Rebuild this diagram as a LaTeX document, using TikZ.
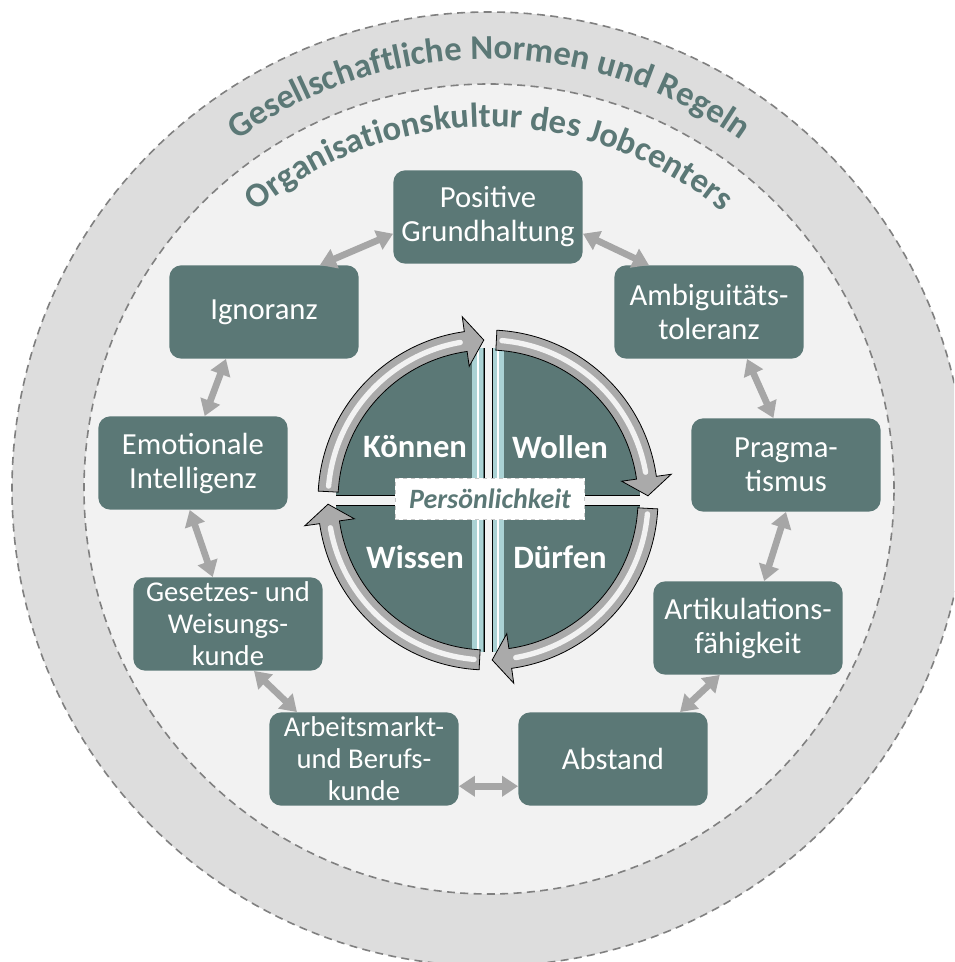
\documentclass[tikz,border=0pt]{standalone}
\usepackage{fontspec}
\setmainfont{Carlito}
\usetikzlibrary{arrows.meta,decorations.text}
\definecolor{boxteal}{RGB}{91,120,118}
\definecolor{bandgray}{RGB}{221,221,221}
\definecolor{innergray}{RGB}{242,242,242}
\definecolor{dashgray}{RGB}{128,128,128}
\definecolor{linkgray}{RGB}{166,166,166}
\definecolor{ringgray}{RGB}{170,170,170}
\definecolor{stripecyan}{RGB}{170,210,212}
\definecolor{lightdash}{RGB}{200,200,200}

\begin{document}
\begin{tikzpicture}[x=0.75pt, y=0.75pt,
  box/.style={shape=rectangle, rounded corners=9pt, fill=boxteal, text=white, minimum width=142pt, minimum height=70pt, inner sep=0pt, align=center, font=\fontsize{23}{25.5}\selectfont},
  small/.style={font=\fontsize{21.5}{24}\selectfont},
  link/.style={draw=linkgray, line width=5pt, >={Triangle[length=12pt,width=15pt]}, <->},
  quarter/.style={text=white, font=\bfseries\fontsize{24.5}{26}\selectfont},
  ringarrow/.style={fill=ringgray, draw=black, line width=0.6pt},
  rim/.style={draw=dashgray, line width=1.2pt, dash pattern=on 6pt off 4pt},
  curved/.style={decorate, decoration={text along path, text align=center, text format delimiters={|}{|}, text={|\bfseries\fontsize{26}{28}\selectfont\color{boxteal}|#1}}}]
\useasboundingbox (-489,489) rectangle (465,-473);
\clip (-489,489) rectangle (465,-473);
\fill[white] (-489,489) rectangle (465,-473);
\draw[rim, fill=bandgray] (0,0) circle (477);
\draw[rim, fill=innergray] (0,0) circle (405);

\path[curved=Gesellschaftliche Normen und Regeln] (150:430) arc[start angle=150, end angle=30, radius=430];
\path[curved=Organisationskultur des Jobcenters] (150:362) arc[start angle=150, end angle=30, radius=362];

\node [box] (K1) at (-1,272) {Positive\\Grundhaltung};
\node [box] (K2) at (220,177) {Ambiguitäts-\\toleranz};
\node [box] (K3) at (297,24) {Pragma-\\tismus};
\node [box] (K4) at (259,-139) {Artikulations-\\fähigkeit};
\node [box] (K5) at (124,-270) {Abstand};
\node [box, small] (K6) at (-125,-270) {Arbeitsmarkt-\\und Berufs-\\kunde};
\node [box, small] (K7) at (-261,-135) {Gesetzes- und\\Weisungs-\\kunde};
\node [box] (K8) at (-296,26) {Emotionale\\Intelligenz};
\node [box] (K9) at (-225,177) {Ignoranz};

\draw[link] (K9.40) -- (K1.190);
\draw[link] (K1.350) -- (K2.142);
\draw[link] (K9.231) -- (K8.76);
\draw[link] (K2.309) -- (K3.105);
\draw[link] (K8.266) -- (K7.108);
\draw[link] (K3.270) -- (K4.71);
\draw[link] (K7.299) -- (K6.145);
\draw[link] (K4.239) -- (K5.35);
\draw[link] (K6.344) -- (K5.196);

\begin{scope}[shift={(-1,-11)}]
\begin{scope}
\clip (0,0) circle (152);
\foreach \sx/\sy in {-1/1,1/1,1/-1,-1/-1} {
  \fill[boxteal] (4*\sx,5*\sy) rectangle (160*\sx,160*\sy);
  \fill[stripecyan] (5*\sx,5*\sy) rectangle (16*\sx,160*\sy);
  \draw[white, line width=0.8pt] (10*\sx,5*\sy) -- (10*\sx,160*\sy);
  \draw[black, line width=0.6pt] (4*\sx,160*\sy) -- (4*\sx,5*\sy) -- (160*\sx,5*\sy);
}
\end{scope}
\foreach \r in {0,-90,-180,-270} {
  \begin{scope}[rotate=\r]
  \draw[ringarrow] (177:170) arc[start angle=177, end angle=98, radius=170] -- (98:185) -- (91.5:160) -- (98:135) -- (98:150) arc[start angle=98, end angle=177, radius=150] -- cycle;
  \draw[white, opacity=0.85, line width=4pt, line cap=round] (175:160) arc[start angle=175, end angle=100, radius=160];
  \end{scope}
}
\node [quarter] (Q1) at (-73,53) {Können};
\node [quarter] (Q2) at (72,53) {Wollen};
\node [quarter] (Q3) at (-73,-57) {Wissen};
\node [quarter] (Q4) at (72,-57) {Dürfen};
\node [shape=rectangle, draw=lightdash, dashed, fill=white, minimum width=142pt, minimum height=31pt, inner sep=0pt, text=boxteal, font=\bfseries\itshape\fontsize{21}{23}\selectfont] (P) at (2,1) {Persönlichkeit};
\end{scope}
\end{tikzpicture}
\end{document}
